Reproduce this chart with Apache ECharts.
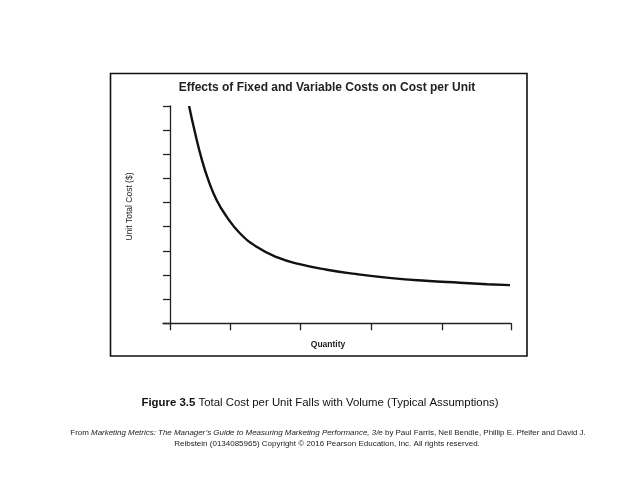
<!DOCTYPE html>
<html>
<head>
<meta charset="utf-8">
<script src="https://cdn.jsdelivr.net/npm/echarts@6/dist/echarts.min.js"></script>
<style>html,body{margin:0;padding:0;background:#fff;}#c{width:638px;height:493px;}</style>
</head>
<body>
<div id="c"></div>
<script>
const chartTitle = 'Effects of Fixed and Variable Costs on Cost per Unit';
const xAxisName = 'Quantity';
const yAxisName = 'Unit Total Cost ($)';
const quantity = [5.6, 7.33, 9.3, 11.23, 13.7, 16.6, 20.5, 25.4, 31.3, 38.0, 46.0, 55.0, 65.0, 75.0, 85.0, 93.0, 99.7];
const unitCost = [9.0, 7.9, 6.8, 5.94, 5.1, 4.42, 3.73, 3.17, 2.74, 2.45, 2.22, 2.03, 1.87, 1.76, 1.68, 1.62, 1.58];
const xTickValues = [0, 17.7, 38.3, 59.0, 79.8, 100];
const yTickValues = [0, 1, 2, 3, 4, 5, 6, 7, 8, 9];
const captionBold = 'Figure 3.5';
const captionText = ' Total Cost per Unit Falls with Volume (Typical Assumptions)';
const footer1a = 'From ';
const footer1b = 'Marketing Metrics: The Manager\u2019s Guide to Measuring Marketing Performance, 3/e';
const footer1c = ' by Paul Farris, Neil Bendle, Phillip E. Pfeifer and David J.';
const footer2 = 'Reibstein (0134085965) Copyright \u00a9 2016 Pearson Education, Inc. All rights reserved.';

const chart = echarts.init(document.getElementById('c'), null, {renderer: 'canvas'});
const font = 'Liberation Sans, Arial, Helvetica, sans-serif';
const data = quantity.map((q, i) => [q, unitCost[i]]);
chart.setOption({
  animation: false,
  backgroundColor: '#fff',
  grid: {left: 163, top: 106, width: 348, height: 217.3, containLabel: false},
  xAxis: {
    type: 'value', min: -2.05, max: 100,
    splitLine: {show: false},
    axisLine: {show: true, onZero: false, lineStyle: {color: '#222', width: 1.3}},
    axisTick: {show: true, inside: false, length: 7, customValues: xTickValues, lineStyle: {color: '#222', width: 1.3}},
    axisLabel: {show: false}
  },
  yAxis: {
    type: 'value', min: 0, max: 9, interval: 1,
    splitLine: {show: false},
    axisLine: {show: true, onZero: true, lineStyle: {color: '#222', width: 1.3}},
    axisTick: {show: true, inside: false, length: 7, customValues: yTickValues, lineStyle: {color: '#222', width: 1.3}},
    axisLabel: {show: false}
  },
  series: [{
    type: 'line', data: data, smooth: 0.5, showSymbol: false,
    lineStyle: {color: '#111', width: 2.4}
  }],
  graphic: [
    {type: 'rect', shape: {x: 110.5, y: 73.5, width: 416.5, height: 282.5}, style: {fill: 'none', stroke: '#111', lineWidth: 1.6}},
    {type: 'text', x: 327, y: 88, style: {text: chartTitle, font: 'bold 12px ' + font, fill: '#222', textAlign: 'center', textVerticalAlign: 'middle'}},
    {type: 'text', x: 328, y: 344.5, style: {text: xAxisName, font: 'bold 8.5px ' + font, fill: '#222', textAlign: 'center', textVerticalAlign: 'middle'}},
    {type: 'text', x: 130, y: 206.5, rotation: Math.PI / 2, style: {text: yAxisName, font: '8.5px ' + font, fill: '#222', textAlign: 'center', textVerticalAlign: 'middle'}},
    {type: 'text', x: 320, y: 403, style: {
      text: '{b|' + captionBold + '}{r|' + captionText + '}',
      textAlign: 'center', textVerticalAlign: 'middle',
      rich: {b: {font: 'bold 11.4px ' + font, fill: '#111'}, r: {font: '11.4px ' + font, fill: '#111'}}
    }},
    {type: 'text', x: 328, y: 433, style: {
      text: '{r|' + footer1a + '}{i|' + footer1b + '}{r|' + footer1c + '}',
      textAlign: 'center', textVerticalAlign: 'middle',
      rich: {r: {font: '7.95px ' + font, fill: '#222'}, i: {font: 'italic 7.95px ' + font, fill: '#222'}}
    }},
    {type: 'text', x: 327, y: 443.5, style: {text: footer2, font: '8px ' + font, fill: '#222', textAlign: 'center', textVerticalAlign: 'middle'}}
  ]
});
</script>
</body>
</html>
